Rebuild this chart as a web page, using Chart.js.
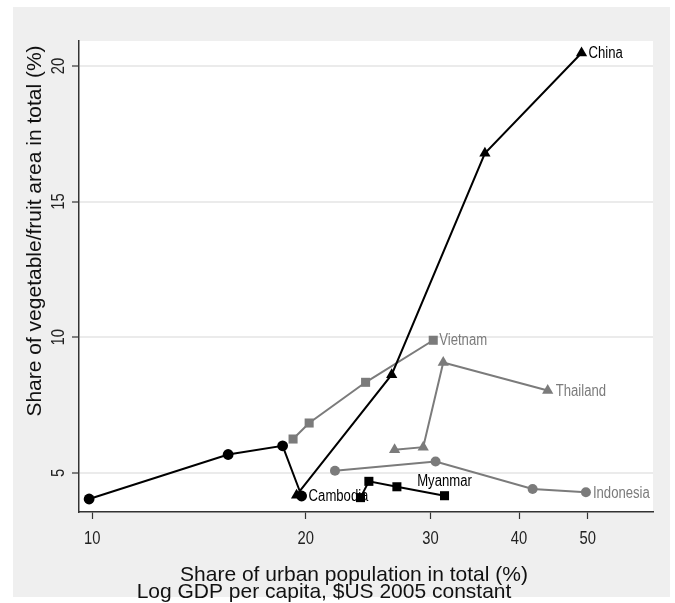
<!DOCTYPE html>
<html>
<head>
<meta charset="utf-8">
<script src="https://cdn.jsdelivr.net/npm/chart.js@4.4.1/dist/chart.umd.min.js"></script>
<style>
  body { margin: 0; background: #ffffff; }
  #wrap { width: 675px; height: 603px; }
</style>
</head>
<body>
<div id="wrap"><canvas id="chart" width="675" height="603"></canvas></div>
<script>
// values (x = urban share, log axis; y = veg/fruit share)
const cambodiaX = [9.9, 15.55, 18.56, 19.74];
const cambodiaY = [4.04, 5.68, 6.0, 4.15];
const chinaX = [19.42, 26.45, 35.8, 49.0];
const chinaY = [4.18, 8.62, 16.78, 20.48];
const myanmarX = [23.9, 24.56, 26.9, 31.4];
const myanmarY = [4.09, 4.69, 4.49, 4.16];
const vietnamX = [19.2, 20.23, 24.3, 30.27];
const vietnamY = [6.25, 6.84, 8.34, 9.89];
const thailandX = [26.7, 29.3, 31.27, 43.9];
const thailandY = [5.85, 5.95, 9.07, 8.04];
const indonesiaX = [22.0, 30.5, 41.8, 49.7];
const indonesiaY = [5.08, 5.42, 4.41, 4.29];

const X_TICKS = [10, 20, 30, 40, 50];
const Y_TICKS = [5, 10, 15, 20];

const Y_TITLE = "Share of vegetable/fruit area in total (%)";
const X_TITLE = "Share of urban population in total (%)";
const X_TITLE2 = "Log GDP per capita, $US 2005 constant";

const BLACK = "#000000";
const GREY = "#7b7b7b";
const SANS = '"Liberation Sans", Arial, sans-serif';
const NARROW_SCALE = 0.82; // no narrow font installed, squeeze the regular one

const toPoints = (xs, ys) => xs.map((x, i) => ({ x: x, y: ys[i] }));

const makeSet = (name, xs, ys, color, style, radius) => ({
    label: name,
    data: toPoints(xs, ys),
    borderColor: color,
    backgroundColor: color,
    borderWidth: 2,
    pointStyle: style,
    pointRadius: radius,
    pointBorderWidth: 0,
    pointBackgroundColor: color,
    tension: 0,
});

// draws condensed text; rot = rotation of the text run
const narrowText = (ctx, text, x, y, align, rot) => {
    ctx.save();
    ctx.translate(x, y);
    if (rot) ctx.rotate(rot);
    ctx.scale(NARROW_SCALE, 1);
    ctx.textAlign = align;
    ctx.fillText(text, 0, 0);
    ctx.restore();
};

////////////////////////////////////////////////////////////////////////////////
// plugins
////////////////////////////////////////////////////////////////////////////////
const backgroundPlugin = {
    id: "bg",
    beforeDraw: (chart) => {
        const ctx = chart.ctx;
        const a = chart.chartArea;
        ctx.save();
        ctx.fillStyle = "#ffffff";
        ctx.fillRect(0, 0, chart.width, chart.height);
        ctx.fillStyle = "#efefef";
        ctx.fillRect(13, 7, 657, 590);
        ctx.fillStyle = "#ffffff";
        ctx.fillRect(a.left, a.top, a.right - a.left, a.bottom - a.top);
        ctx.restore();
    },
};

// country name beside the last point of each line
const LABELS = {
    "China":     { dx: 7, dy: 1, color: BLACK, align: "left" },
    "Cambodia":  { dx: 7, dy: 1, color: BLACK, align: "left" },
    "Myanmar":   { dx: 0, dy: -14, color: BLACK, align: "center" },
    "Vietnam":   { dx: 6, dy: 0, color: GREY, align: "left" },
    "Thailand":  { dx: 8, dy: 1, color: GREY, align: "left" },
    "Indonesia": { dx: 7, dy: 1, color: GREY, align: "left" },
};

const textPlugin = {
    id: "texts",
    afterDraw: (chart) => {
        const ctx = chart.ctx;
        ctx.save();

        // country labels
        ctx.font = "16px " + SANS;
        ctx.textBaseline = "middle";
        chart.data.datasets.forEach((ds, i) => {
            const opt = LABELS[ds.label];
            const pts = chart.getDatasetMeta(i).data;
            const p = pts[pts.length - 1];
            ctx.fillStyle = opt.color;
            narrowText(ctx, ds.label, p.x + opt.dx, p.y + opt.dy, opt.align, 0);
        });

        // tick labels
        ctx.fillStyle = "#222";
        ctx.font = "18px " + SANS;
        ctx.textBaseline = "middle";
        const ys = chart.scales.y;
        Y_TICKS.forEach((v) => {
            narrowText(ctx, String(v), 59, ys.getPixelForValue(v), "center", -Math.PI / 2);
        });
        const xs = chart.scales.x;
        X_TICKS.forEach((v) => {
            narrowText(ctx, String(v), xs.getPixelForValue(v), 539, "center", 0);
        });

        // axis titles
        ctx.fillStyle = "#111";
        ctx.font = "21px " + SANS;
        ctx.textAlign = "center";
        ctx.textBaseline = "alphabetic";
        ctx.save();
        ctx.translate(41, 231);
        ctx.rotate(-Math.PI / 2);
        ctx.fillText(Y_TITLE, 0, 0);
        ctx.restore();
        ctx.fillText(X_TITLE, 354, 581);
        ctx.fillText(X_TITLE2, 324, 598);

        ctx.restore();
    },
};

////////////////////////////////////////////////////////////////////////////////
// chart
////////////////////////////////////////////////////////////////////////////////
const createChart = () => {
    const canvas = document.querySelector("#chart");
    return new Chart(canvas, {
        type: "line",
        data: {
            datasets: [
                makeSet("China", chinaX, chinaY, BLACK, "triangle", 6.5),
                makeSet("Cambodia", cambodiaX, cambodiaY, BLACK, "circle", 5.4),
                makeSet("Myanmar", myanmarX, myanmarY, BLACK, "rect", 6.4),
                makeSet("Vietnam", vietnamX, vietnamY, GREY, "rect", 6.4),
                makeSet("Thailand", thailandX, thailandY, GREY, "triangle", 6.5),
                makeSet("Indonesia", indonesiaX, indonesiaY, GREY, "circle", 5),
            ],
        },
        options: {
            responsive: false,
            animation: false,
            layout: { padding: { left: 0, top: 41, right: 22, bottom: 0 } },
            plugins: {
                legend: { display: false },
                tooltip: { enabled: false },
            },
            scales: {
                x: {
                    type: "logarithmic",
                    min: 9.58,
                    max: 61.8,
                    afterBuildTicks: (s) => { s.ticks = X_TICKS.map((v) => ({ value: v })); },
                    afterFit: (s) => { s.height = 91; },
                    ticks: { display: false, autoSkip: false },
                    grid: { drawOnChartArea: false, tickLength: 7, tickColor: "#333", tickWidth: 1.2 },
                    border: { color: "#333", width: 1.5 },
                },
                y: {
                    min: 3.56,
                    max: 20.92,
                    afterBuildTicks: (s) => { s.ticks = Y_TICKS.map((v) => ({ value: v })); },
                    afterFit: (s) => { s.width = 79; },
                    ticks: { display: false },
                    grid: { color: "#ebebeb", lineWidth: 2, tickLength: 7, tickColor: "#333", tickWidth: 1.2 },
                    border: { color: "#333", width: 1.5 },
                },
            },
        },
        plugins: [backgroundPlugin, textPlugin],
    });
};

createChart();
</script>
</body>
</html>
